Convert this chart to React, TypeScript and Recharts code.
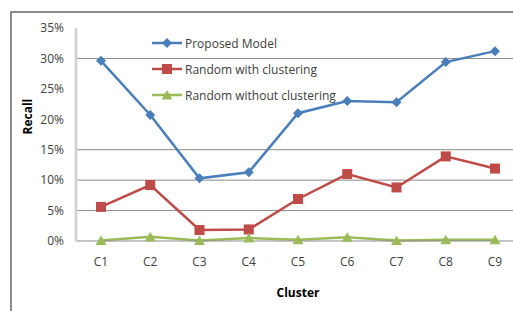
import React from 'react';
import { LineChart, Line, XAxis, YAxis, CartesianGrid, Legend, ReferenceLine } from 'recharts';

const clusters = ['C1', 'C2', 'C3', 'C4', 'C5', 'C6', 'C7', 'C8', 'C9'];
const proposedModel = [0.296, 0.207, 0.103, 0.113, 0.21, 0.23, 0.228, 0.294, 0.312];
const randomWithClustering = [0.056, 0.092, 0.018, 0.019, 0.069, 0.11, 0.088, 0.139, 0.119];
const randomWithoutClustering = [0.001, 0.007, 0.001, 0.005, 0.002, 0.006, 0.001, 0.002, 0.002];
const yTicks = [0, 0.05, 0.1, 0.15, 0.2, 0.25, 0.3, 0.35];
const gridValues = [0.05, 0.1, 0.15, 0.3];

const BLUE = '#4a7ebb';
const RED = '#be4b48';
const GREEN = '#9bbb59';
const TEXT = '#404040';
const FONT = '"Open Sans", "Noto Sans", sans-serif';

const data = clusters.map((c, i) => ({
  cluster: c,
  proposed: proposedModel[i],
  withClustering: randomWithClustering[i],
  withoutClustering: randomWithoutClustering[i],
}));

const series = [
  { key: 'proposed', name: 'Proposed Model', color: BLUE, shape: 'diamond' },
  { key: 'withClustering', name: 'Random with clustering', color: RED, shape: 'square' },
  { key: 'withoutClustering', name: 'Random without clustering', color: GREEN, shape: 'triangle' },
];

const Marker = ({ shape, cx, cy, color }: { shape: string; cx: number; cy: number; color: string }) => {
  if (shape === 'diamond') {
    return <path d={`M${cx},${cy - 5} L${cx + 5},${cy} L${cx},${cy + 5} L${cx - 5},${cy} Z`} fill={color} />;
  }
  if (shape === 'square') {
    return <rect x={cx - 5} y={cy - 5} width={10} height={10} fill={color} />;
  }
  return <path d={`M${cx},${cy - 5} L${cx + 5.5},${cy + 4.5} L${cx - 5.5},${cy + 4.5} Z`} fill={color} />;
};

const makeDot = (shape: string, color: string) => (props: any) => {
  const { cx, cy, index } = props;
  if (cx == null || cy == null) return <g key={index} />;
  return <Marker key={index} shape={shape} cx={cx} cy={cy} color={color} />;
};

const LegendContent = () => (
  <div style={{ fontFamily: FONT, fontSize: 12, color: TEXT }}>
    {series.map((s) => (
      <div key={s.key} style={{ display: 'flex', alignItems: 'center', height: 26 }}>
        <svg width={30} height={14} style={{ marginRight: 3 }}>
          <line x1={0} y1={7} x2={30} y2={7} stroke={s.color} strokeWidth={2.5} />
          <Marker shape={s.shape} cx={15} cy={7} color={s.color} />
        </svg>
        <span>{s.name}</span>
      </div>
    ))}
  </div>
);

export default function App() {
  return (
    <div style={{ position: 'absolute', left: 0, top: 0, width: 513, height: 311, overflow: 'hidden', background: '#fff' }}>
      <div
        style={{
          position: 'absolute',
          left: 10,
          top: 11,
          width: 540,
          height: 340,
          borderTop: '2px solid #8a8a8a',
          borderLeft: '2px solid #8a8a8a',
        }}
      />
      <LineChart
        width={545}
        height={311}
        data={data}
        margin={{ top: 28, right: 25, left: 26, bottom: 40 }}
        style={{ position: 'absolute', left: 0, top: 0, fontFamily: FONT }}
      >
        <CartesianGrid horizontal={false} vertical={false} />
        {gridValues.map((v) => (
          <ReferenceLine key={v} y={v} stroke="#8a8a8a" strokeWidth={1} />
        ))}
        <XAxis
          dataKey="cluster"
          padding={{ left: 25, right: 25 }}
          axisLine={{ stroke: '#8a8a8a', strokeWidth: 1 }}
          tickLine={false}
          tickSize={0}
          tickMargin={16}
          height={30}
          tick={{ fill: TEXT, fontSize: 12 }}
          label={{ value: 'Cluster', position: 'insideBottom', offset: -26, fill: '#000', fontSize: 12, fontWeight: 'bold' }}
        />
        <YAxis
          domain={[0, 0.35]}
          ticks={yTicks}
          tickFormatter={(v: number) => `${Math.round(v * 100)}%`}
          axisLine={{ stroke: '#d4d4d4', strokeWidth: 3 }}
          tickLine={false}
          tickSize={0}
          tickMargin={12}
          width={50}
          tick={{ fill: TEXT, fontSize: 12 }}
          label={{ value: 'Recall', angle: -90, position: 'insideLeft', offset: 2, fill: '#000', fontSize: 12, fontWeight: 'bold' }}
        />
        <Legend
          layout="vertical"
          align="center"
          verticalAlign="middle"
          content={<LegendContent />}
          wrapperStyle={{ left: 152, top: 30, width: 240 }}
        />
        {series.map((s) => (
          <Line
            key={s.key}
            type="linear"
            dataKey={s.key}
            name={s.name}
            stroke={s.color}
            strokeWidth={2.5}
            dot={makeDot(s.shape, s.color)}
            activeDot={false}
            isAnimationActive={false}
          />
        ))}
      </LineChart>
    </div>
  );
}
